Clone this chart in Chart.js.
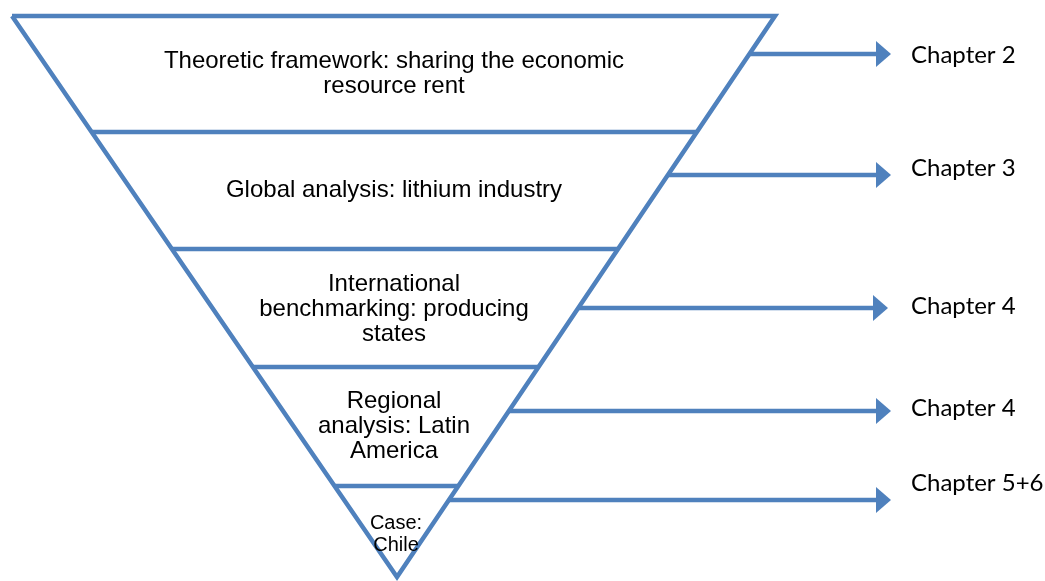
<!DOCTYPE html>
<html>
<head>
<meta charset="utf-8">
<title>Funnel</title>
<script src="https://cdn.jsdelivr.net/npm/chart.js@4.4.1/dist/chart.umd.min.js"></script>
<style>
  html, body { margin: 0; padding: 0; background: #fff; }
  #wrap { width: 1045px; height: 581px; }
</style>
</head>
<body>
<div id="wrap"><canvas id="funnel"></canvas></div>
<script>
// Funnel outline (diagram units = pixels of the reference)
const triangleTop = [12, 775];      // left / right x of the top edge
const triangleTopY = 16;
const apex = [397, 577];
// y of the dividing lines between the levels
const levelLines = [132, 249, 367, 486];
// level texts, one array of lines per level, and where they sit
const levelTexts = [
    ['Theoretic framework: sharing the economic', 'resource rent'],
    ['Global analysis: lithium industry'],
    ['International', 'benchmarking: producing', 'states'],
    ['Regional', 'analysis: Latin', 'America'],
    ['Case:', 'Chile']
];
const levelTextY = [74, 190, 309, 426, 534];
// arrows to the chapters
const arrowY = [54, 175, 308, 411, 500];
const arrowTip = [891, 891, 888, 891, 891];
const chapterLabels = ['Chapter 2', 'Chapter 3', 'Chapter 4', 'Chapter 4', 'Chapter 5+6'];
const chapterY = [55, 168, 306, 408, 483];

const blue = '#4F81BD';

function leftX(y) {
    return triangleTop[0] + (apex[0] - triangleTop[0]) * (y - triangleTopY) / (apex[1] - triangleTopY);
}
function rightX(y) {
    return triangleTop[1] + (apex[0] - triangleTop[1]) * (y - triangleTopY) / (apex[1] - triangleTopY);
}

const datasets = [];
datasets.push({
    data: [
        { x: triangleTop[0], y: triangleTopY },
        { x: triangleTop[1], y: triangleTopY },
        { x: apex[0], y: apex[1] },
        { x: triangleTop[0], y: triangleTopY }
    ]
});
levelLines.forEach(y => {
    datasets.push({ data: [{ x: leftX(y), y: y }, { x: rightX(y), y: y }] });
});
arrowY.forEach((y, i) => {
    datasets.push({ data: [{ x: rightX(y), y: y }, { x: arrowTip[i] - 12, y: y }] });
});
datasets.forEach(ds => {
    ds.borderColor = blue;
    ds.borderWidth = 4.5;
    ds.pointRadius = 0;
    ds.showLine = true;
    ds.fill = false;
    ds.tension = 0;
    ds.borderJoinStyle = 'miter';
});

// arrow heads and all texts
const annotate = {
    id: 'annotate',
    afterDatasetsDraw(chart) {
        const ctx = chart.ctx;
        const xs = chart.scales.x, ys = chart.scales.y;
        ctx.save();
        ctx.fillStyle = blue;
        arrowY.forEach((y, i) => {
            const tx = xs.getPixelForValue(arrowTip[i]);
            const bx = xs.getPixelForValue(arrowTip[i] - 15);
            const py = ys.getPixelForValue(y);
            ctx.beginPath();
            ctx.moveTo(tx, py);
            ctx.lineTo(bx, py - 13);
            ctx.lineTo(bx, py + 13);
            ctx.closePath();
            ctx.fill();
        });

        ctx.fillStyle = '#000';
        ctx.textAlign = 'center';
        ctx.textBaseline = 'middle';
        levelTexts.forEach((lines, i) => {
            const small = i === levelTexts.length - 1;
            const lh = small ? 22 : 25;
            ctx.font = (small ? '20px' : '24px') + ' "Liberation Sans", Arial, sans-serif';
            const cy = ys.getPixelForValue(levelTextY[i]);
            const cx = xs.getPixelForValue(small ? 396 : 394);
            lines.forEach((t, j) => {
                ctx.fillText(t, cx, cy + (j - (lines.length - 1) / 2) * lh);
            });
        });

        ctx.textAlign = 'left';
        ctx.font = '24px Lato, "Open Sans", sans-serif';
        chapterLabels.forEach((t, i) => {
            ctx.fillText(t, xs.getPixelForValue(911), ys.getPixelForValue(chapterY[i]));
        });
        ctx.restore();
    }
};

new Chart(document.getElementById('funnel').getContext('2d'), {
    type: 'scatter',
    data: { datasets: datasets },
    options: {
        responsive: true,
        maintainAspectRatio: false,
        animation: false,
        layout: { padding: 0 },
        plugins: {
            legend: { display: false },
            tooltip: { enabled: false }
        },
        scales: {
            x: { type: 'linear', min: 0, max: 1045, display: false },
            y: { type: 'linear', min: 0, max: 581, reverse: true, display: false }
        }
    },
    plugins: [annotate]
});
</script>
</body>
</html>
